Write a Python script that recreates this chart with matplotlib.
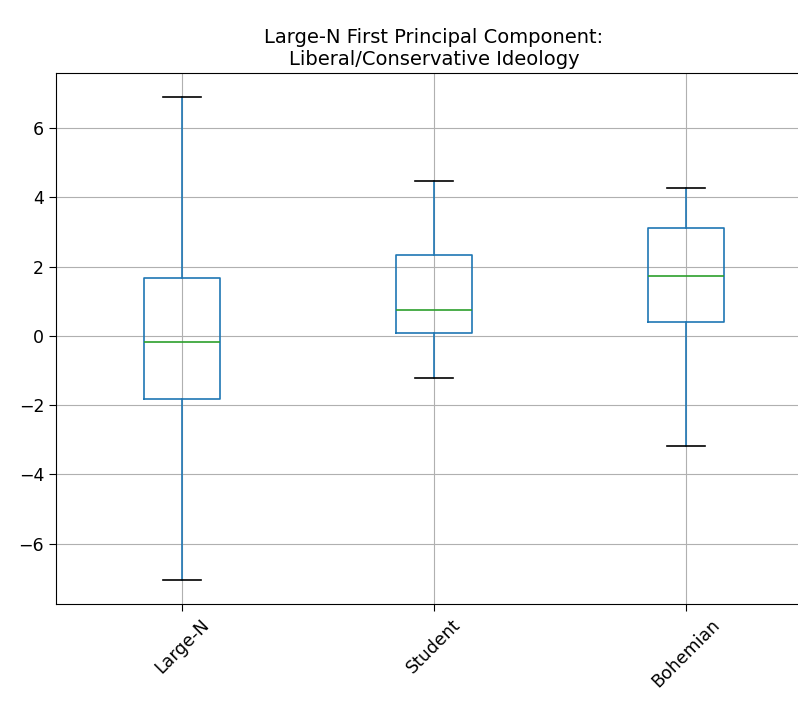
import matplotlib.pyplot as plt

groups = ['Large-N', 'Student', 'Bohemian']
whislo = [-7.04, -1.21, -3.17]
q1 = [-1.82, 0.09, 0.40]
med = [-0.17, 0.75, 1.73]
q3 = [1.67, 2.34, 3.12]
whishi = [6.89, 4.47, 4.27]

stats = []
for i in range(len(groups)):
    stats.append({'label': groups[i], 'whislo': whislo[i], 'q1': q1[i], 'med': med[i],
                  'q3': q3[i], 'whishi': whishi[i], 'fliers': []})

fig = plt.figure(figsize=(7.98, 7.02), dpi=100)
# axes runs past the right edge, the reference is cropped there
ax = fig.add_axes([56/798, 1-604/702, (812-56)/798, (604-73)/702])

ax.bxp(stats, showfliers=False,
       boxprops=dict(color='C0', linewidth=1.2), whiskerprops=dict(color='C0', linewidth=1.2),
       medianprops=dict(color='C2', linewidth=1.2), capprops=dict(color='k', linewidth=1.2))
ax.grid(True)
ax.set_xlim(0.5, 3.5)
ax.set_ylim(-7.74, 7.59)
ax.set_yticks([-6, -4, -2, 0, 2, 4, 6])
ax.tick_params(labelsize=12.5, length=5)
plt.setp(ax.get_xticklabels(), rotation=45)
ax.set_title('Large-N First Principal Component:\nLiberal/Conservative Ideology', fontsize=14)

fig.savefig('out.png', dpi=100)
